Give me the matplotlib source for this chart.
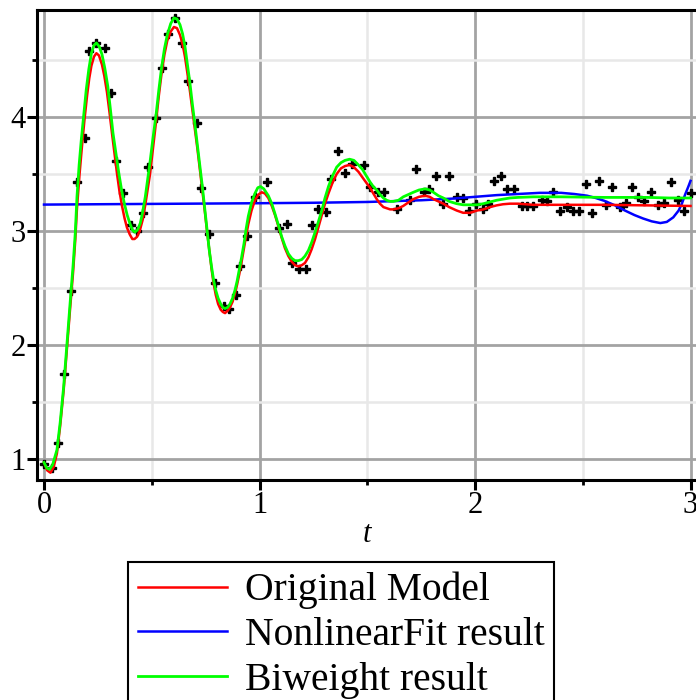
import matplotlib
matplotlib.use("Agg")
import matplotlib.pyplot as plt
from matplotlib.ticker import MultipleLocator

# measured data (black crosses)
t_data = [0.0, 0.037, 0.065, 0.094, 0.127, 0.153, 0.189, 0.21, 0.243, 0.282,
          0.311, 0.336, 0.368, 0.402, 0.432, 0.459, 0.483, 0.52, 0.549, 0.577,
          0.609, 0.642, 0.67, 0.708, 0.729, 0.766, 0.794, 0.835, 0.86, 0.891,
          0.91, 0.94, 0.979, 1.033, 1.09, 1.126, 1.152, 1.183, 1.214, 1.242,
          1.273, 1.307, 1.332, 1.366, 1.397, 1.428, 1.486, 1.513, 1.548, 1.578,
          1.64, 1.698, 1.726, 1.763, 1.788, 1.819, 1.85, 1.88, 1.918, 1.943,
          1.972, 2.005, 2.039, 2.062, 2.088, 2.121, 2.15, 2.182, 2.217, 2.24,
          2.268, 2.31, 2.336, 2.363, 2.394, 2.428, 2.456, 2.483, 2.514, 2.544,
          2.575, 2.606, 2.637, 2.673, 2.699, 2.727, 2.755, 2.786, 2.817, 2.848,
          2.878, 2.909, 2.941, 2.971, 3.002]
y_data = [0.96, 0.92, 1.14, 1.75, 2.47, 3.43, 3.82, 4.58, 4.65, 4.61,
          4.21, 3.61, 3.33, 3.05, 3.00, 3.16, 3.56, 3.99, 4.43, 4.73,
          4.87, 4.65, 4.32, 3.95, 3.38, 2.97, 2.54, 2.34, 2.32, 2.44,
          2.69, 2.96, 3.30, 3.43, 3.03, 3.06, 2.72, 2.67, 2.67, 3.05,
          3.19, 3.17, 3.46, 3.70, 3.51, 3.59, 3.58, 3.39, 3.34, 3.34,
          3.19, 3.27, 3.54, 3.34, 3.37, 3.48, 3.24, 3.48, 3.30, 3.29,
          3.18, 3.24, 3.19, 3.24, 3.44, 3.48, 3.37, 3.37, 3.22, 3.22,
          3.22, 3.27, 3.26, 3.34, 3.18, 3.21, 3.18, 3.18, 3.41, 3.16,
          3.44, 3.23, 3.39, 3.21, 3.25, 3.39, 3.30, 3.26, 3.34, 3.23,
          3.25, 3.43, 3.27, 3.18, 3.33]

# Original Model (red)
t_model = [0.0, 0.015, 0.03, 0.045, 0.06, 0.075, 0.091, 0.106, 0.122, 0.135,
           0.145, 0.153, 0.165, 0.176, 0.188, 0.2, 0.21, 0.22, 0.232, 0.243,
           0.255, 0.269, 0.28, 0.292, 0.304, 0.316, 0.328, 0.339, 0.35, 0.362,
           0.374, 0.385, 0.398, 0.41, 0.42, 0.432, 0.444, 0.458, 0.47, 0.48,
           0.492, 0.506, 0.52, 0.533, 0.546, 0.559, 0.572, 0.588, 0.603, 0.617,
           0.631, 0.643, 0.654, 0.665, 0.677, 0.688, 0.7, 0.712, 0.724, 0.736,
           0.747, 0.757, 0.767, 0.778, 0.787, 0.797, 0.808, 0.82, 0.83, 0.84,
           0.852, 0.863, 0.875, 0.886, 0.896, 0.906, 0.917, 0.928, 0.938, 0.948,
           0.963, 0.979, 0.995, 1.01, 1.025, 1.041, 1.057, 1.072, 1.088, 1.103,
           1.118, 1.134, 1.15, 1.165, 1.18, 1.196, 1.211, 1.227, 1.242, 1.258,
           1.273, 1.289, 1.304, 1.32, 1.338, 1.358, 1.378, 1.397, 1.418, 1.438,
           1.459, 1.478, 1.497, 1.513, 1.528, 1.544, 1.559, 1.575, 1.59, 1.606,
           1.621, 1.645, 1.667, 1.69, 1.714, 1.74, 1.768, 1.79, 1.807, 1.83,
           1.853, 1.88, 1.915, 1.945, 1.977, 2.01, 2.039, 2.07, 2.1, 2.13,
           2.162, 2.2, 2.27, 2.4, 2.6, 2.8, 3.0]
y_model = [0.97, 0.90, 0.88, 0.93, 1.05, 1.29, 1.60, 1.96, 2.34, 2.64,
           2.92, 3.20, 3.50, 3.74, 3.98, 4.19, 4.34, 4.45, 4.53, 4.56,
           4.54, 4.46, 4.36, 4.22, 4.04, 3.85, 3.67, 3.50, 3.35, 3.22,
           3.11, 3.03, 2.97, 2.93, 2.93, 2.95, 3.00, 3.10, 3.23, 3.35,
           3.50, 3.73, 3.96, 4.19, 4.39, 4.55, 4.67, 4.75, 4.79, 4.78,
           4.72, 4.64, 4.53, 4.39, 4.23, 4.07, 3.90, 3.72, 3.53, 3.34,
           3.16, 2.99, 2.83, 2.66, 2.54, 2.44, 2.36, 2.31, 2.29, 2.28,
           2.30, 2.33, 2.38, 2.45, 2.53, 2.62, 2.73, 2.85, 2.96, 3.06,
           3.18, 3.27, 3.32, 3.34, 3.33, 3.29, 3.22, 3.14, 3.04, 2.94,
           2.85, 2.78, 2.73, 2.70, 2.69, 2.70, 2.72, 2.77, 2.84, 2.93,
           3.03, 3.14, 3.24, 3.33, 3.42, 3.50, 3.55, 3.57, 3.58, 3.56,
           3.52, 3.47, 3.42, 3.38, 3.33, 3.28, 3.24, 3.21, 3.20, 3.19,
           3.19, 3.20, 3.22, 3.25, 3.28, 3.30, 3.31, 3.30, 3.28, 3.26,
           3.24, 3.21, 3.18, 3.16, 3.16, 3.18, 3.19, 3.21, 3.225, 3.235,
           3.24, 3.24, 3.23, 3.23, 3.23, 3.225, 3.22]

# NonlinearFit result (blue)
t_nlfit = [0.0, 0.25, 0.5, 0.75, 1.0, 1.25, 1.5, 1.75, 1.9, 2.0,
           2.1, 2.2, 2.3, 2.4, 2.46, 2.52, 2.56, 2.6, 2.65, 2.69,
           2.74, 2.78, 2.82, 2.86, 2.89, 2.92, 2.945, 2.96, 2.975, 2.99, 3.0]
y_nlfit = [3.232, 3.235, 3.238, 3.241, 3.244, 3.248, 3.255, 3.27, 3.285, 3.30,
           3.315, 3.325, 3.335, 3.335, 3.325, 3.31, 3.29, 3.265, 3.225, 3.185,
           3.14, 3.11, 3.085, 3.07, 3.08, 3.12, 3.18, 3.24, 3.32, 3.39, 3.44]

# Biweight result (green)
t_biw = [0.0, 0.013, 0.026, 0.04, 0.06, 0.075, 0.091, 0.106, 0.122, 0.135,
         0.145, 0.153, 0.163, 0.173, 0.185, 0.196, 0.208, 0.22, 0.232, 0.243,
         0.256, 0.269, 0.282, 0.296, 0.308, 0.32, 0.334, 0.347, 0.36, 0.373,
         0.386, 0.398, 0.41, 0.421, 0.434, 0.447, 0.458, 0.47, 0.48, 0.493,
         0.506, 0.52, 0.533, 0.546, 0.559, 0.572, 0.588, 0.603, 0.617, 0.631,
         0.643, 0.654, 0.665, 0.677, 0.688, 0.7, 0.712, 0.724, 0.736, 0.747,
         0.757, 0.767, 0.778, 0.787, 0.797, 0.808, 0.82, 0.83, 0.84, 0.852,
         0.863, 0.875, 0.886, 0.896, 0.906, 0.917, 0.928, 0.938, 0.948, 0.963,
         0.979, 0.992, 1.005, 1.02, 1.041, 1.057, 1.072, 1.088, 1.103, 1.118,
         1.134, 1.15, 1.165, 1.18, 1.196, 1.211, 1.227, 1.242, 1.258, 1.273,
         1.289, 1.304, 1.32, 1.338, 1.358, 1.378, 1.397, 1.418, 1.438, 1.459,
         1.478, 1.497, 1.513, 1.528, 1.544, 1.559, 1.575, 1.59, 1.606, 1.621,
         1.645, 1.667, 1.69, 1.714, 1.74, 1.768, 1.79, 1.807, 1.83, 1.853,
         1.88, 1.915, 1.945, 1.977, 2.01, 2.039, 2.07, 2.1, 2.13, 2.162,
         2.2, 2.27, 2.4, 2.6, 2.8, 2.9, 3.0]
y_biw = [0.97, 0.92, 0.91, 0.95, 1.08, 1.32, 1.63, 2.00, 2.39, 2.70,
         2.98, 3.30, 3.58, 3.80, 4.03, 4.24, 4.42, 4.56, 4.63, 4.65,
         4.62, 4.55, 4.43, 4.27, 4.07, 3.86, 3.68, 3.51, 3.36, 3.24,
         3.14, 3.07, 3.01, 2.99, 3.01, 3.07, 3.17, 3.30, 3.44, 3.62,
         3.82, 4.02, 4.24, 4.44, 4.60, 4.72, 4.82, 4.87, 4.86, 4.81,
         4.73, 4.62, 4.47, 4.30, 4.12, 3.94, 3.75, 3.56, 3.37, 3.18,
         3.00, 2.83, 2.68, 2.57, 2.48, 2.41, 2.36, 2.33, 2.32, 2.33,
         2.36, 2.41, 2.48, 2.56, 2.66, 2.77, 2.89, 3.02, 3.13, 3.25,
         3.33, 3.38, 3.39, 3.37, 3.31, 3.24, 3.15, 3.05, 2.95, 2.87,
         2.80, 2.76, 2.74, 2.74, 2.75, 2.78, 2.83, 2.90, 2.99, 3.08,
         3.18, 3.29, 3.39, 3.48, 3.56, 3.60, 3.62, 3.63, 3.62, 3.58,
         3.54, 3.48, 3.43, 3.39, 3.36, 3.32, 3.29, 3.27, 3.26, 3.26,
         3.27, 3.30, 3.32, 3.34, 3.36, 3.37, 3.36, 3.34, 3.31, 3.29,
         3.26, 3.24, 3.23, 3.23, 3.23, 3.24, 3.255, 3.27, 3.28, 3.29,
         3.295, 3.30, 3.30, 3.295, 3.295, 3.29, 3.29]

legend_labels = ["Original Model", "NonlinearFit result", "Biweight result"]
x_ticks = [0, 1, 2, 3]
y_ticks = [1, 2, 3, 4]

plt.rcParams['font.family'] = 'Liberation Serif'

fig = plt.figure(figsize=(6.96, 7.0), dpi=100)
ax = fig.add_axes([37/696, 220/700, 659/696, 470/700])

ax.plot(t_data, y_data, ls='none', marker='P', ms=6, color='black', zorder=2)
l_nl, = ax.plot(t_nlfit, y_nlfit, color='#0000ff', lw=1.8, zorder=3)
l_mod, = ax.plot(t_model, y_model, color='#ff0000', lw=1.8, zorder=4)
l_biw, = ax.plot(t_biw, y_biw, color='#00ff00', lw=2.0, zorder=5)

ax.set_xlim(-0.0325, 3.0255)
ax.set_ylim(0.816, 4.939)
ax.set_xticks(x_ticks)
ax.set_yticks(y_ticks)
ax.xaxis.set_minor_locator(MultipleLocator(0.5))
ax.yaxis.set_minor_locator(MultipleLocator(0.5))

ax.set_axisbelow(True)
ax.grid(which='minor', color='#e8e8e8', lw=1.8)
ax.grid(which='major', color='#a3a3a3', lw=2.0)

ax.tick_params(which='major', direction='out', length=7, width=2.2,
               labelsize=22, pad=1, color='black')
ax.tick_params(which='minor', direction='out', length=3.5, width=2.0, color='black')

ax.spines['right'].set_visible(False)
for side in ['left', 'top', 'bottom']:
    ax.spines[side].set_linewidth(2.2)
    ax.spines[side].set_color('black')

ax.set_xlabel('t', fontsize=22, style='italic', labelpad=0)

leg = fig.legend([l_mod, l_nl, l_biw], legend_labels, loc='upper left',
                 bbox_to_anchor=(128/696, 1 - 562/700), borderaxespad=0,
                 fontsize=28.5, frameon=True, fancybox=False, edgecolor='black',
                 handlelength=2.25, handletextpad=0.45, labelspacing=0.2,
                 borderpad=0.25)
leg.get_frame().set_linewidth(1.5)
leg.get_frame().set_alpha(1)

fig.savefig('out.png', dpi=100)
